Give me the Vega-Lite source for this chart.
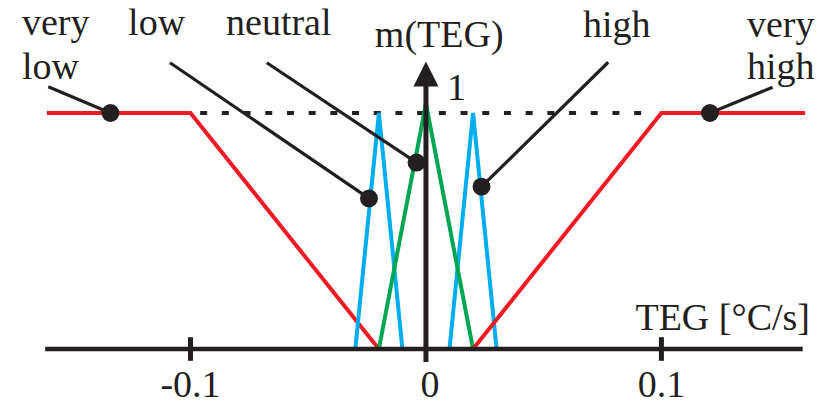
{
  "$schema": "https://vega.github.io/schema/vega-lite/v6.json",
  "width": 822,
  "height": 409,
  "padding": 0,
  "autosize": {"type": "fit", "contains": "padding"},
  "background": "white",
  "config": {"view": {"stroke": null}, "text": {"font": "Liberation Serif", "fontSize": 38, "fill": "#231f20"}},
  "datasets": {
    "membership": [
      {"fn": "very low", "i": 0, "x": -0.161, "m": 1},
      {"fn": "very low", "i": 1, "x": -0.1, "m": 1},
      {"fn": "very low", "i": 2, "x": -0.02, "m": 0},
      {"fn": "low", "i": 0, "x": -0.03, "m": 0},
      {"fn": "low", "i": 1, "x": -0.02, "m": 1},
      {"fn": "low", "i": 2, "x": -0.01, "m": 0},
      {"fn": "high", "i": 0, "x": 0.01, "m": 0},
      {"fn": "high", "i": 1, "x": 0.02, "m": 1},
      {"fn": "high", "i": 2, "x": 0.03, "m": 0},
      {"fn": "neutral", "i": 0, "x": -0.02, "m": 0},
      {"fn": "neutral", "i": 1, "x": 0, "m": 1.04},
      {"fn": "neutral", "i": 2, "x": 0.02, "m": 0},
      {"fn": "very high", "i": 0, "x": 0.02, "m": 0},
      {"fn": "very high", "i": 1, "x": 0.1, "m": 1},
      {"fn": "very high", "i": 2, "x": 0.161, "m": 1}
    ],
    "pointers": [
      {"name": "very low", "x": -0.134, "m": 1, "x2": -0.1604, "m2": 1.111},
      {"name": "low", "x": -0.0242, "m": 0.638, "x2": -0.1087, "m2": 1.213},
      {"name": "neutral", "x": -0.004, "m": 0.79, "x2": -0.0676, "m2": 1.213},
      {"name": "high", "x": 0.0236, "m": 0.688, "x2": 0.0774, "m2": 1.215},
      {"name": "very high", "x": 0.1206, "m": 1, "x2": 0.1472, "m2": 1.109}
    ]
  },
  "encoding": {
    "x": {"type": "quantitative", "scale": {"domain": [-0.1809, 0.1682], "nice": false, "zero": false}, "axis": null},
    "y": {"type": "quantitative", "scale": {"domain": [-0.2542, 1.4788], "nice": false, "zero": false}, "axis": null}
  },
  "layer": [
    {
      "data": {"values": [{"x": -0.0959, "x2": 0.093, "m": 1}]},
      "mark": {"type": "rule", "stroke": "#231f20", "strokeWidth": 4, "strokeDash": [7, 14.7]},
      "encoding": {"x": {"field": "x"}, "x2": {"field": "x2"}, "y": {"field": "m"}}
    },
    {
      "data": {"name": "membership"},
      "mark": {"type": "line", "strokeWidth": 4, "strokeJoin": "miter"},
      "encoding": {
        "x": {"field": "x"},
        "y": {"field": "m"},
        "order": {"field": "i"},
        "detail": {"field": "fn"},
        "color": {
          "field": "fn", "type": "nominal", "legend": null,
          "scale": {"domain": ["very low", "low", "neutral", "high", "very high"], "range": ["#ed1c24", "#00aeef", "#00a651", "#00aeef", "#ed1c24"]}
        }
      }
    },
    {
      "data": {"values": [{"x": -0.1617, "x2": 0.160, "m": 0}]},
      "mark": {"type": "rule", "stroke": "#231f20", "strokeWidth": 4.5},
      "encoding": {"x": {"field": "x"}, "x2": {"field": "x2"}, "y": {"field": "m"}}
    },
    {
      "data": {"values": [{"x": -0.1, "m": -0.05, "m2": 0.05}, {"x": 0.1, "m": -0.05, "m2": 0.05}, {"x": 0, "m": -0.055, "m2": 1.13}]},
      "mark": {"type": "rule", "stroke": "#231f20", "strokeWidth": 5},
      "encoding": {"x": {"field": "x"}, "y": {"field": "m"}, "y2": {"field": "m2"}}
    },
    {
      "data": {"values": [{"x": 0, "m": 1.165}]},
      "mark": {"type": "point", "shape": "M0,-1L-1,1L1,1Z", "size": 625, "filled": true, "fill": "#231f20", "opacity": 1, "strokeWidth": 0},
      "encoding": {"x": {"field": "x"}, "y": {"field": "m"}}
    },
    {
      "data": {"name": "pointers"},
      "mark": {"type": "rule", "stroke": "#231f20", "strokeWidth": 3.2},
      "encoding": {"x": {"field": "x"}, "y": {"field": "m"}, "x2": {"field": "x2"}, "y2": {"field": "m2"}}
    },
    {
      "data": {"name": "pointers"},
      "mark": {"type": "point", "shape": "circle", "size": 320, "filled": true, "fill": "#231f20", "opacity": 1, "strokeWidth": 0},
      "encoding": {"x": {"field": "x"}, "y": {"field": "m"}}
    },
    {
      "data": {"values": [
        {"label": "very", "x": -0.1716, "m": 1.3305},
        {"label": "low", "x": -0.1716, "m": 1.144},
        {"label": "low", "x": -0.1265, "m": 1.3305},
        {"label": "neutral", "x": -0.0849, "m": 1.3305},
        {"label": "m(TEG)", "x": -0.0217, "m": 1.2797},
        {"label": "high", "x": 0.0667, "m": 1.322},
        {"label": "very", "x": 0.1363, "m": 1.322},
        {"label": "high", "x": 0.1363, "m": 1.144},
        {"label": "1", "x": 0.0089, "m": 1.055}
      ]},
      "mark": {"type": "text", "align": "left", "baseline": "alphabetic", "font": "Liberation Serif", "fontSize": 38, "fill": "#231f20"},
      "encoding": {"x": {"field": "x"}, "y": {"field": "m"}, "text": {"field": "label"}}
    },
    {
      "data": {"values": [{"label": "TEG [°C/s]", "x": 0.1631, "m": 0.0805}]},
      "mark": {"type": "text", "align": "right", "baseline": "alphabetic", "font": "Liberation Serif", "fontSize": 38, "fill": "#231f20"},
      "encoding": {"x": {"field": "x"}, "y": {"field": "m"}, "text": {"field": "label"}}
    },
    {
      "data": {"values": [
        {"label": "-0.1", "x": -0.1, "m": -0.2034},
        {"label": "0", "x": 0.0017, "m": -0.2034},
        {"label": "0.1", "x": 0.1, "m": -0.2034}
      ]},
      "mark": {"type": "text", "align": "center", "baseline": "alphabetic", "font": "Liberation Serif", "fontSize": 38, "fill": "#231f20"},
      "encoding": {"x": {"field": "x"}, "y": {"field": "m"}, "text": {"field": "label"}}
    }
  ]
}
